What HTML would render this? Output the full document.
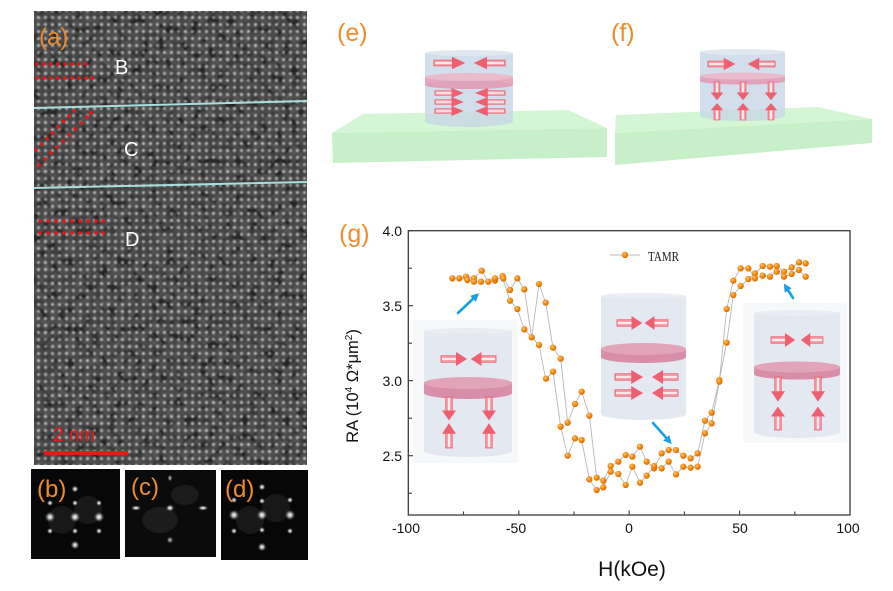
<!DOCTYPE html>
<html><head><meta charset="utf-8"><style>
html,body{margin:0;padding:0;background:#fff;}
svg{display:block;}
</style></head><body>
<svg width="893" height="591" viewBox="0 0 893 591" xmlns="http://www.w3.org/2000/svg" font-family="Liberation Sans, Arial, sans-serif">
<defs>
  <radialGradient id="dot" cx="50%" cy="50%" r="50%">
    <stop offset="0" stop-color="#c8c8c8"/>
    <stop offset="0.5" stop-color="#6e6e6e"/>
    <stop offset="1" stop-color="#333" stop-opacity="0"/>
  </radialGradient>
  <pattern id="lat" width="7" height="7" patternUnits="userSpaceOnUse">
    <rect width="7" height="7" fill="#313131"/>
    <circle cx="3.5" cy="3.5" r="3.1" fill="url(#dot)"/>
  </pattern>
  <filter id="nz" x="0" y="0" width="1" height="1">
    <feTurbulence type="fractalNoise" baseFrequency="0.12" numOctaves="2" seed="7"/>
    <feColorMatrix type="matrix" values="1.4 0 0 0 -0.4  1.4 0 0 0 -0.4  1.4 0 0 0 -0.4  0 0 0 0 1"/>
  </filter>
  <clipPath id="temclip"><rect x="34" y="11" width="273" height="454"/></clipPath>
  <radialGradient id="spot" cx="50%" cy="50%" r="50%">
    <stop offset="0" stop-color="#ffffff"/>
    <stop offset="0.35" stop-color="#d8d8d8" stop-opacity="0.8"/>
    <stop offset="1" stop-color="#000" stop-opacity="0"/>
  </radialGradient>
  <radialGradient id="ball" cx="38%" cy="35%" r="65%">
    <stop offset="0" stop-color="#ffd08a"/>
    <stop offset="0.35" stop-color="#f99a25"/>
    <stop offset="1" stop-color="#d86c00"/>
  </radialGradient>
  <g id="ar">
    <rect x="0" y="-3.2" width="17" height="6.4" fill="#f8a3ad" stroke="#ea6272" stroke-width="0.9"/>
    <line x1="1" y1="0" x2="16" y2="0" stroke="#fff" stroke-width="1.6"/>
    <polygon points="15,-7 26,0 15,7" fill="#ee5f71"/>
  </g>
  <marker id="bh" viewBox="0 0 10 10" refX="5" refY="5" markerWidth="3.2" markerHeight="3.2" orient="auto">
    <path d="M0,0 L10,5 L0,10 Z" fill="#1a9ee6"/>
  </marker>
</defs>

<rect width="893" height="591" fill="#fff"/>

<!-- (a) TEM image -->
<g clip-path="url(#temclip)">
  <rect x="34" y="11" width="273" height="454" fill="url(#lat)"/>
  <rect x="34" y="11" width="273" height="454" filter="url(#nz)" opacity="0.22"/>
</g>
<line x1="34" y1="108" x2="307" y2="101" stroke="#a8dede" stroke-width="2"/>
<line x1="34" y1="188" x2="307" y2="182" stroke="#a8dede" stroke-width="2"/>
<g fill="#e81515">
  <circle cx="37" cy="64" r="1.8"/><circle cx="44" cy="64" r="1.8"/><circle cx="51" cy="64" r="1.8"/><circle cx="58" cy="64" r="1.8"/><circle cx="65" cy="64" r="1.8"/><circle cx="72" cy="64" r="1.8"/><circle cx="79" cy="64" r="1.8"/><circle cx="86" cy="64" r="1.8"/>
  <circle cx="37" cy="78" r="1.8"/><circle cx="44" cy="78" r="1.8"/><circle cx="51" cy="78" r="1.8"/><circle cx="58" cy="78" r="1.8"/><circle cx="65" cy="78" r="1.8"/><circle cx="72" cy="78" r="1.8"/><circle cx="79" cy="78" r="1.8"/><circle cx="86" cy="78" r="1.8"/><circle cx="92" cy="78" r="1.8"/>
  <circle cx="36" cy="150" r="1.8"/><circle cx="41.5" cy="144" r="1.8"/><circle cx="47" cy="138.5" r="1.8"/><circle cx="52.5" cy="133" r="1.8"/><circle cx="58" cy="127" r="1.8"/><circle cx="63.5" cy="121.5" r="1.8"/><circle cx="69" cy="116" r="1.8"/><circle cx="74" cy="111" r="1.8"/>
  <circle cx="39" cy="165" r="1.8"/><circle cx="45" cy="159" r="1.8"/><circle cx="51" cy="153" r="1.8"/><circle cx="57" cy="147" r="1.8"/><circle cx="63" cy="141" r="1.8"/><circle cx="69" cy="135" r="1.8"/><circle cx="75" cy="129" r="1.8"/><circle cx="81" cy="123" r="1.8"/><circle cx="87" cy="117" r="1.8"/><circle cx="91" cy="113" r="1.8"/>
  <circle cx="40" cy="221" r="1.8"/><circle cx="48" cy="221" r="1.8"/><circle cx="56" cy="221" r="1.8"/><circle cx="64" cy="221" r="1.8"/><circle cx="72" cy="221" r="1.8"/><circle cx="80" cy="221" r="1.8"/><circle cx="88" cy="221" r="1.8"/><circle cx="96" cy="221" r="1.8"/><circle cx="103" cy="221" r="1.8"/>
  <circle cx="40" cy="233" r="1.8"/><circle cx="48" cy="233" r="1.8"/><circle cx="56" cy="233" r="1.8"/><circle cx="64" cy="233" r="1.8"/><circle cx="72" cy="233" r="1.8"/><circle cx="80" cy="233" r="1.8"/><circle cx="88" cy="233" r="1.8"/><circle cx="96" cy="233" r="1.8"/><circle cx="103" cy="233" r="1.8"/>
</g>
<text x="39" y="45" font-size="24" fill="#ec8c30">(a)</text>
<text x="115" y="74" font-size="20" fill="#fff">B</text>
<text x="124" y="156" font-size="20" fill="#fff">C</text>
<text x="125" y="246" font-size="20" fill="#fff">D</text>
<rect x="44" y="451" width="84" height="4" fill="#e81818"/>
<text x="53" y="441" font-size="19" fill="#e81818">2 nm</text>

<!-- (b)(c)(d) FFT panels -->
<rect x="31" y="469" width="89" height="90" fill="#070707"/>
<g>
  <circle cx="62" cy="520" r="14" fill="#3a3a3a" opacity="0.35"/>
  <circle cx="88" cy="510" r="14" fill="#3a3a3a" opacity="0.35"/>
  <circle cx="75" cy="517" r="6" fill="url(#spot)"/>
  <circle cx="50" cy="517" r="6" fill="url(#spot)"/>
  <circle cx="99" cy="517" r="6" fill="url(#spot)"/>
  <circle cx="75" cy="489" r="4" fill="url(#spot)"/>
  <circle cx="75" cy="545" r="5" fill="url(#spot)"/>
  <circle cx="75" cy="503" r="3.5" fill="url(#spot)"/>
  <circle cx="75" cy="531" r="3.5" fill="url(#spot)"/>
  <circle cx="50" cy="503" r="3.5" fill="url(#spot)"/>
  <circle cx="99" cy="503" r="3.5" fill="url(#spot)"/>
  <circle cx="50" cy="531" r="3.5" fill="url(#spot)"/>
  <circle cx="99" cy="531" r="3.5" fill="url(#spot)"/>
</g>
<text x="37" y="497" font-size="24" fill="#ec8c30">(b)</text>

<rect x="125" y="470" width="91" height="87" fill="#0b0b0b"/>
<g>
  <ellipse cx="160" cy="520" rx="18" ry="13" fill="#2e2e2e" opacity="0.5"/>
  <ellipse cx="185" cy="495" rx="14" ry="10" fill="#2e2e2e" opacity="0.45"/>
  <ellipse cx="170" cy="508" rx="5" ry="4" fill="url(#spot)"/>
  <ellipse cx="136" cy="508" rx="6" ry="3" fill="url(#spot)"/>
  <ellipse cx="203" cy="508" rx="6" ry="3" fill="url(#spot)"/>
  <ellipse cx="170" cy="478" rx="3" ry="4" fill="url(#spot)" opacity="0.7"/>
  <ellipse cx="170" cy="540" rx="4" ry="4" fill="url(#spot)" opacity="0.7"/>
</g>
<text x="131" y="495" font-size="24" fill="#ec8c30">(c)</text>

<rect x="221" y="470" width="87" height="90" fill="#070707"/>
<g>
  <circle cx="250" cy="520" r="14" fill="#3a3a3a" opacity="0.35"/>
  <circle cx="276" cy="508" r="14" fill="#3a3a3a" opacity="0.35"/>
  <circle cx="262" cy="515" r="6" fill="url(#spot)"/>
  <circle cx="234" cy="515" r="6" fill="url(#spot)"/>
  <circle cx="290" cy="515" r="6" fill="url(#spot)"/>
  <circle cx="262" cy="487" r="4" fill="url(#spot)"/>
  <circle cx="262" cy="547" r="5" fill="url(#spot)"/>
  <circle cx="262" cy="501" r="3.5" fill="url(#spot)"/>
  <circle cx="262" cy="530" r="3.5" fill="url(#spot)"/>
  <circle cx="234" cy="500" r="3.5" fill="url(#spot)"/>
  <circle cx="290" cy="500" r="3.5" fill="url(#spot)"/>
  <circle cx="234" cy="531" r="3.5" fill="url(#spot)"/>
  <circle cx="290" cy="531" r="3.5" fill="url(#spot)"/>
</g>
<text x="225" y="497" font-size="24" fill="#ec8c30">(d)</text>

<!-- (e) -->
<text x="337" y="41" font-size="25" fill="#ec8c30">(e)</text>
<polygon points="363,114 568,110 607,128 332,133" fill="#d4f6d4"/>
<polygon points="332,133 607,128 607,157 333,163" fill="#c8f0c8"/>
<g opacity="0.78">
  <path d="M425,53 L425,121 A44,6 0 0 0 513,121 L513,53 Z" fill="#c6d6e7"/>
  <ellipse cx="469" cy="53" rx="44" ry="3" fill="#d8e3ee"/>
</g>
<g opacity="0.8">
  <rect x="425" y="77" width="88" height="8" fill="#e89bb5"/>
  <ellipse cx="469" cy="85" rx="44" ry="4" fill="#e493ae"/>
  <ellipse cx="469" cy="77" rx="44" ry="4" fill="#efb3c6"/>
</g>
<use href="#ar" transform="translate(434,63) scale(1.2,0.9)"/>
<use href="#ar" transform="translate(505,63) scale(-1.2,0.9)"/>
<use href="#ar" transform="translate(435,93) scale(1.1,0.72)"/>
<use href="#ar" transform="translate(435,102) scale(1.1,0.72)"/>
<use href="#ar" transform="translate(435,111) scale(1.1,0.72)"/>
<use href="#ar" transform="translate(505,93) scale(-1.15,0.72)"/>
<use href="#ar" transform="translate(505,102) scale(-1.15,0.72)"/>
<use href="#ar" transform="translate(505,111) scale(-1.15,0.72)"/>

<!-- (f) -->
<text x="611" y="41" font-size="25" fill="#ec8c30">(f)</text>
<polygon points="616,115 818,107 872,119 615,133" fill="#d4f6d4"/>
<polygon points="615,133 872,119 872,143 615,165" fill="#c8f0c8"/>
<g opacity="0.78">
  <path d="M700,52 L700,115 A42.5,6 0 0 0 785,115 L785,52 Z" fill="#c6d6e7"/>
  <ellipse cx="742.5" cy="52" rx="42.5" ry="3" fill="#d8e3ee"/>
</g>
<g opacity="0.8">
  <rect x="700" y="76" width="85" height="5" fill="#e89bb5"/>
  <ellipse cx="742.5" cy="81" rx="42.5" ry="3.5" fill="#e493ae"/>
  <ellipse cx="742.5" cy="76" rx="42.5" ry="3.5" fill="#efb3c6"/>
</g>
<use href="#ar" transform="translate(708,64) scale(1.05,0.9)"/>
<use href="#ar" transform="translate(775,64) scale(-1.05,0.9)"/>
<use href="#ar" transform="translate(717,82) rotate(90) scale(0.7,0.9)"/>
<use href="#ar" transform="translate(743,82) rotate(90) scale(0.7,0.9)"/>
<use href="#ar" transform="translate(771,82) rotate(90) scale(0.7,0.9)"/>
<use href="#ar" transform="translate(717,120) rotate(-90) scale(0.65,0.9)"/>
<use href="#ar" transform="translate(743,120) rotate(-90) scale(0.65,0.9)"/>
<use href="#ar" transform="translate(771,120) rotate(-90) scale(0.65,0.9)"/>

<!-- (g) plot -->
<text x="339" y="242" font-size="25" fill="#ec8c30">(g)</text>

<!-- insets -->
<rect x="413" y="320" width="105" height="143" fill="#f7f8fa"/>
<path d="M424,331 L424,451 A44,6 0 0 0 512,451 L512,331 Z" fill="#e4e8f0"/>
<ellipse cx="468" cy="331" rx="44" ry="3" fill="#eaedf3"/>
<rect x="424" y="383" width="88" height="10" fill="#da90aa"/>
<ellipse cx="468" cy="393" rx="44" ry="6" fill="#d88ea8"/>
<ellipse cx="468" cy="383" rx="44" ry="6" fill="#e2a4b9"/>
<use href="#ar" transform="translate(441,359)"/>
<use href="#ar" transform="translate(496,359) scale(-0.97,1)"/>
<use href="#ar" transform="translate(449,397) rotate(90) scale(0.9,1)"/>
<use href="#ar" transform="translate(489,397) rotate(90) scale(0.9,1)"/>
<use href="#ar" transform="translate(449,448) rotate(-90) scale(0.95,1)"/>
<use href="#ar" transform="translate(489,448) rotate(-90) scale(0.95,1)"/>

<path d="M601,296 L601,414 A42.5,6 0 0 0 686,414 L686,296 Z" fill="#e4e8f0"/>
<ellipse cx="643.5" cy="296" rx="42.5" ry="3" fill="#eaedf3"/>
<rect x="601" y="349" width="85" height="8" fill="#da90aa"/>
<ellipse cx="643.5" cy="357" rx="42.5" ry="6" fill="#d88ea8"/>
<ellipse cx="643.5" cy="349" rx="42.5" ry="6" fill="#e2a4b9"/>
<use href="#ar" transform="translate(617,323) scale(0.97,1)"/>
<use href="#ar" transform="translate(668,323) scale(-0.9,1)"/>
<use href="#ar" transform="translate(615,377) scale(1.08,1)"/>
<use href="#ar" transform="translate(615,393) scale(1.08,1)"/>
<use href="#ar" transform="translate(678,377) scale(-1,1)"/>
<use href="#ar" transform="translate(678,393) scale(-1,1)"/>

<rect x="743" y="303" width="104" height="140" fill="#f7f8fa"/>
<path d="M754,313 L754,432 A43,6 0 0 0 840,432 L840,313 Z" fill="#e4e8f0"/>
<ellipse cx="797" cy="313" rx="43" ry="3" fill="#eaedf3"/>
<rect x="754" y="367" width="86" height="7" fill="#da90aa"/>
<ellipse cx="797" cy="374" rx="43" ry="5.5" fill="#d88ea8"/>
<ellipse cx="797" cy="367" rx="43" ry="5.5" fill="#e2a4b9"/>
<use href="#ar" transform="translate(771,340) scale(0.93,1)"/>
<use href="#ar" transform="translate(823,340) scale(-0.85,1)"/>
<use href="#ar" transform="translate(778,377) rotate(90) scale(0.95,1)"/>
<use href="#ar" transform="translate(818,377) rotate(90) scale(0.95,1)"/>
<use href="#ar" transform="translate(778,430) rotate(-90) scale(0.9,1)"/>
<use href="#ar" transform="translate(818,430) rotate(-90) scale(0.9,1)"/>

<!-- frame -->
<rect x="408.3" y="230.7" width="441.7" height="284.3" fill="none" stroke="#3a3a3a" stroke-width="1.3"/>
<g stroke="#3a3a3a" stroke-width="1.1">
  <line x1="408.3" y1="230.7" x2="413" y2="230.7"/>
  <line x1="408.3" y1="268.2" x2="412" y2="268.2"/>
  <line x1="408.3" y1="305.7" x2="413" y2="305.7"/>
  <line x1="408.3" y1="343.2" x2="412" y2="343.2"/>
  <line x1="408.3" y1="380.7" x2="413" y2="380.7"/>
  <line x1="408.3" y1="418.2" x2="412" y2="418.2"/>
  <line x1="408.3" y1="455.7" x2="413" y2="455.7"/>
  <line x1="408.3" y1="493.2" x2="412" y2="493.2"/>
  <line x1="463.5" y1="515" x2="463.5" y2="511.5"/>
  <line x1="518.8" y1="515" x2="518.8" y2="510.5"/>
  <line x1="574" y1="515" x2="574" y2="511.5"/>
  <line x1="629.2" y1="515" x2="629.2" y2="510.5"/>
  <line x1="684.4" y1="515" x2="684.4" y2="511.5"/>
  <line x1="739.6" y1="515" x2="739.6" y2="510.5"/>
  <line x1="794.8" y1="515" x2="794.8" y2="511.5"/>
</g>
<g font-size="14" fill="#111" text-anchor="end">
  <text x="402" y="236">4.0</text>
  <text x="402" y="311">3.5</text>
  <text x="402" y="386">3.0</text>
  <text x="402" y="461">2.5</text>
</g>
<g font-size="14" fill="#111" text-anchor="middle">
  <text x="406" y="533">-100</text>
  <text x="516" y="533">-50</text>
  <text x="629" y="533">0</text>
  <text x="740" y="533">50</text>
  <text x="848" y="533">100</text>
</g>
<text x="632" y="576" font-size="21" fill="#111" text-anchor="middle">H(kOe)</text>
<text transform="translate(358,386) rotate(-90)" font-size="16.5" fill="#111" text-anchor="middle">RA (10<tspan font-size="10" dy="-6">4</tspan><tspan dy="6"> Ω*μm</tspan><tspan font-size="10" dy="-6">2</tspan><tspan dy="6">)</tspan></text>

<!-- legend -->
<line x1="610" y1="255" x2="640" y2="255" stroke="#b8b8b8" stroke-width="0.9"/>
<circle cx="625" cy="255" r="3.2" fill="url(#ball)"/>
<text x="648" y="261" font-size="14" font-family="Liberation Serif, serif" fill="#222" textLength="31" lengthAdjust="spacingAndGlyphs">TAMR</text>

<!-- data -->
<g transform="translate(380,210) scale(0.33333)">
  <polyline fill="none" stroke="#b5b5b5" stroke-width="2.6" points="217,205 238,205 258,200 282,205 305,182 325,215 345,212 368,198 390,240 412,205 433,238 455,382 477,222 497,278 519,413 542,446 563,638 585,582 605,545 628,617 650,803 670,812 692,768 715,755 737,735 757,740 780,710 800,755 822,775 845,730 866,720 888,720 910,737 932,745 953,730 975,632 995,608 1018,510 1040,398 1060,255 1082,228 1105,207 1125,190 1148,168 1170,170 1190,168 1212,185 1235,172 1257,157 1277,160"/>
  <polyline fill="none" stroke="#b5b5b5" stroke-width="2.6" points="217,205 238,205 262,210 282,215 305,215 325,212 345,205 368,205 390,272 412,297 433,358 455,382 477,405 497,506 519,485 542,650 563,737 585,685 605,690 628,808 650,840 670,832 692,785 715,792 737,825 757,770 780,818 800,797 822,770 845,775 866,755 888,793 910,770 932,773 953,770 975,670 995,640 1018,515 1040,297 1060,212 1082,175 1105,175 1125,205 1148,197 1170,200 1190,185 1212,200 1235,192 1257,180 1277,200"/>
  <g fill="url(#ball)">
    <circle cx="217" cy="205" r="9.5"/><circle cx="238" cy="205" r="9.5"/><circle cx="258" cy="200" r="9.5"/><circle cx="262" cy="210" r="9.5"/><circle cx="282" cy="205" r="9.5"/><circle cx="282" cy="215" r="9.5"/><circle cx="305" cy="182" r="9.5"/><circle cx="303" cy="215" r="9.5"/><circle cx="325" cy="215" r="9.5"/><circle cx="345" cy="212" r="9.5"/><circle cx="345" cy="205" r="9.5"/><circle cx="368" cy="198" r="9.5"/><circle cx="370" cy="205" r="9.5"/>
    <circle cx="390" cy="240" r="9.5"/><circle cx="390" cy="272" r="9.5"/><circle cx="412" cy="205" r="9.5"/><circle cx="412" cy="297" r="9.5"/><circle cx="433" cy="238" r="9.5"/><circle cx="433" cy="358" r="9.5"/><circle cx="455" cy="382" r="9.5"/><circle cx="477" cy="222" r="9.5"/><circle cx="477" cy="405" r="9.5"/><circle cx="497" cy="278" r="9.5"/><circle cx="498" cy="506" r="9.5"/><circle cx="519" cy="413" r="9.5"/><circle cx="519" cy="485" r="9.5"/><circle cx="542" cy="446" r="9.5"/><circle cx="542" cy="650" r="9.5"/><circle cx="563" cy="638" r="9.5"/><circle cx="563" cy="737" r="9.5"/><circle cx="585" cy="582" r="9.5"/><circle cx="585" cy="685" r="9.5"/><circle cx="605" cy="545" r="9.5"/><circle cx="605" cy="690" r="9.5"/><circle cx="628" cy="617" r="9.5"/><circle cx="628" cy="808" r="9.5"/>
    <circle cx="650" cy="803" r="9.5"/><circle cx="650" cy="840" r="9.5"/><circle cx="670" cy="812" r="9.5"/><circle cx="670" cy="832" r="9.5"/><circle cx="692" cy="768" r="9.5"/><circle cx="692" cy="785" r="9.5"/><circle cx="715" cy="755" r="9.5"/><circle cx="715" cy="792" r="9.5"/><circle cx="737" cy="735" r="9.5"/><circle cx="737" cy="825" r="9.5"/><circle cx="757" cy="740" r="9.5"/><circle cx="757" cy="770" r="9.5"/><circle cx="780" cy="710" r="9.5"/><circle cx="780" cy="818" r="9.5"/><circle cx="800" cy="755" r="9.5"/><circle cx="800" cy="797" r="9.5"/><circle cx="822" cy="775" r="9.5"/><circle cx="822" cy="768" r="9.5"/><circle cx="845" cy="730" r="9.5"/><circle cx="845" cy="775" r="9.5"/><circle cx="866" cy="720" r="9.5"/><circle cx="866" cy="755" r="9.5"/><circle cx="888" cy="720" r="9.5"/><circle cx="888" cy="793" r="9.5"/><circle cx="910" cy="737" r="9.5"/><circle cx="910" cy="770" r="9.5"/><circle cx="932" cy="745" r="9.5"/><circle cx="932" cy="773" r="9.5"/><circle cx="953" cy="730" r="9.5"/><circle cx="953" cy="770" r="9.5"/>
    <circle cx="975" cy="632" r="9.5"/><circle cx="975" cy="670" r="9.5"/><circle cx="995" cy="608" r="9.5"/><circle cx="995" cy="640" r="9.5"/><circle cx="1018" cy="510" r="9.5"/><circle cx="1018" cy="515" r="9.5"/><circle cx="1040" cy="398" r="9.5"/><circle cx="1040" cy="297" r="9.5"/><circle cx="1060" cy="255" r="9.5"/><circle cx="1060" cy="212" r="9.5"/><circle cx="1082" cy="228" r="9.5"/><circle cx="1082" cy="175" r="9.5"/><circle cx="1105" cy="207" r="9.5"/><circle cx="1105" cy="175" r="9.5"/><circle cx="1125" cy="190" r="9.5"/><circle cx="1125" cy="205" r="9.5"/><circle cx="1148" cy="168" r="9.5"/><circle cx="1148" cy="197" r="9.5"/><circle cx="1170" cy="170" r="9.5"/><circle cx="1170" cy="200" r="9.5"/><circle cx="1190" cy="168" r="9.5"/><circle cx="1190" cy="185" r="9.5"/><circle cx="1212" cy="185" r="9.5"/><circle cx="1212" cy="200" r="9.5"/><circle cx="1235" cy="172" r="9.5"/><circle cx="1235" cy="192" r="9.5"/><circle cx="1257" cy="157" r="9.5"/><circle cx="1257" cy="180" r="9.5"/><circle cx="1277" cy="160" r="9.5"/><circle cx="1277" cy="200" r="9.5"/>
  </g>
</g>

<!-- blue arrows -->
<g stroke="#1a9ee6" stroke-width="2.6" fill="none" stroke-linecap="round">
  <line x1="458" y1="313" x2="476" y2="296" marker-end="url(#bh)"/>
  <line x1="653" y1="423" x2="669" y2="441" marker-end="url(#bh)"/>
  <line x1="793" y1="298" x2="786" y2="287" marker-end="url(#bh)"/>
</g>
</svg>
</body></html>
